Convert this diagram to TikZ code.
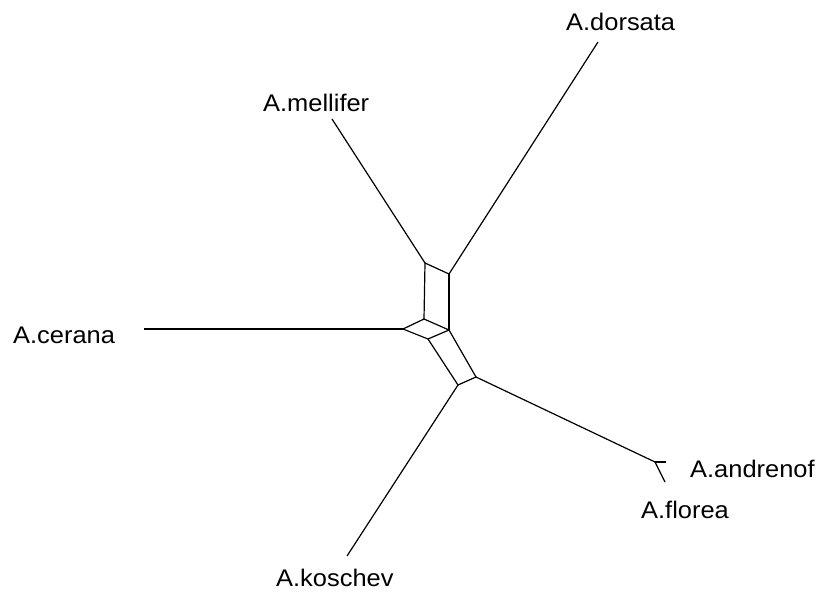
\documentclass[tikz,border=0pt]{standalone}
\usepackage{fontspec}
\setmainfont{Liberation Sans}[FakeStretch=1.06]
\tikzset{
  taxon/.style={anchor=base west, inner sep=0pt, font=\fontsize{24}{28}\selectfont},
  split/.style={line width=1.2pt, line join=round}
}
\begin{document}
\begin{tikzpicture}[x=1pt, y=-1pt]
      \useasboundingbox (0,0) rectangle (817,594);

      % inner boxes of the network
      \coordinate (mj) at (425,263);
      \coordinate (dj) at (449,274);
      \coordinate (bl) at (424,319);
      \coordinate (mid) at (449,330);
      \coordinate (cj) at (403,329);
      \coordinate (lo) at (428,339);
      \coordinate (kj) at (458,385);
      \coordinate (aj) at (476,377);
      \coordinate (fj) at (655,462);

      % leaf ends
      \coordinate (mt) at (332,119);
      \coordinate (dt) at (598,42);
      \coordinate (ct) at (144,329);
      \coordinate (kt) at (347,556);
      \coordinate (at) at (666,462);
      \coordinate (ft) at (665,482);

      \draw[split] (mj) -- (dj);
      \draw[split] (mj) -- (bl);
      \draw[split] (dj) -- (mid);
      \draw[split] (bl) -- (mid);
      \draw[split] (bl) -- (cj);
      \draw[split] (cj) -- (lo);
      \draw[split] (lo) -- (mid);
      \draw[split] (lo) -- (kj);
      \draw[split] (mid) -- (aj);
      \draw[split] (kj) -- (aj);

      \draw[split] (mj) -- (mt);
      \draw[split] (dj) -- (dt);
      \draw[split] (cj) -- (ct);
      \draw[split] (kj) -- (kt);
      \draw[split] (aj) -- (fj);
      \draw[split] (fj) -- (at);
      \draw[split] (fj) -- (ft);

      \node[taxon] (dors) at (566,31) {A.dorsata};
      \node[taxon] (mell) at (263,111) {A.mellifer};
      \node[taxon] (cera) at (13,343) {A.cerana};
      \node[taxon] (andr) at (690,477) {A.andrenof};
      \node[taxon] (flor) at (641,518) {A.florea};
      \node[taxon] (kosc) at (276,586) {A.koschev};
\end{tikzpicture}
\end{document}
